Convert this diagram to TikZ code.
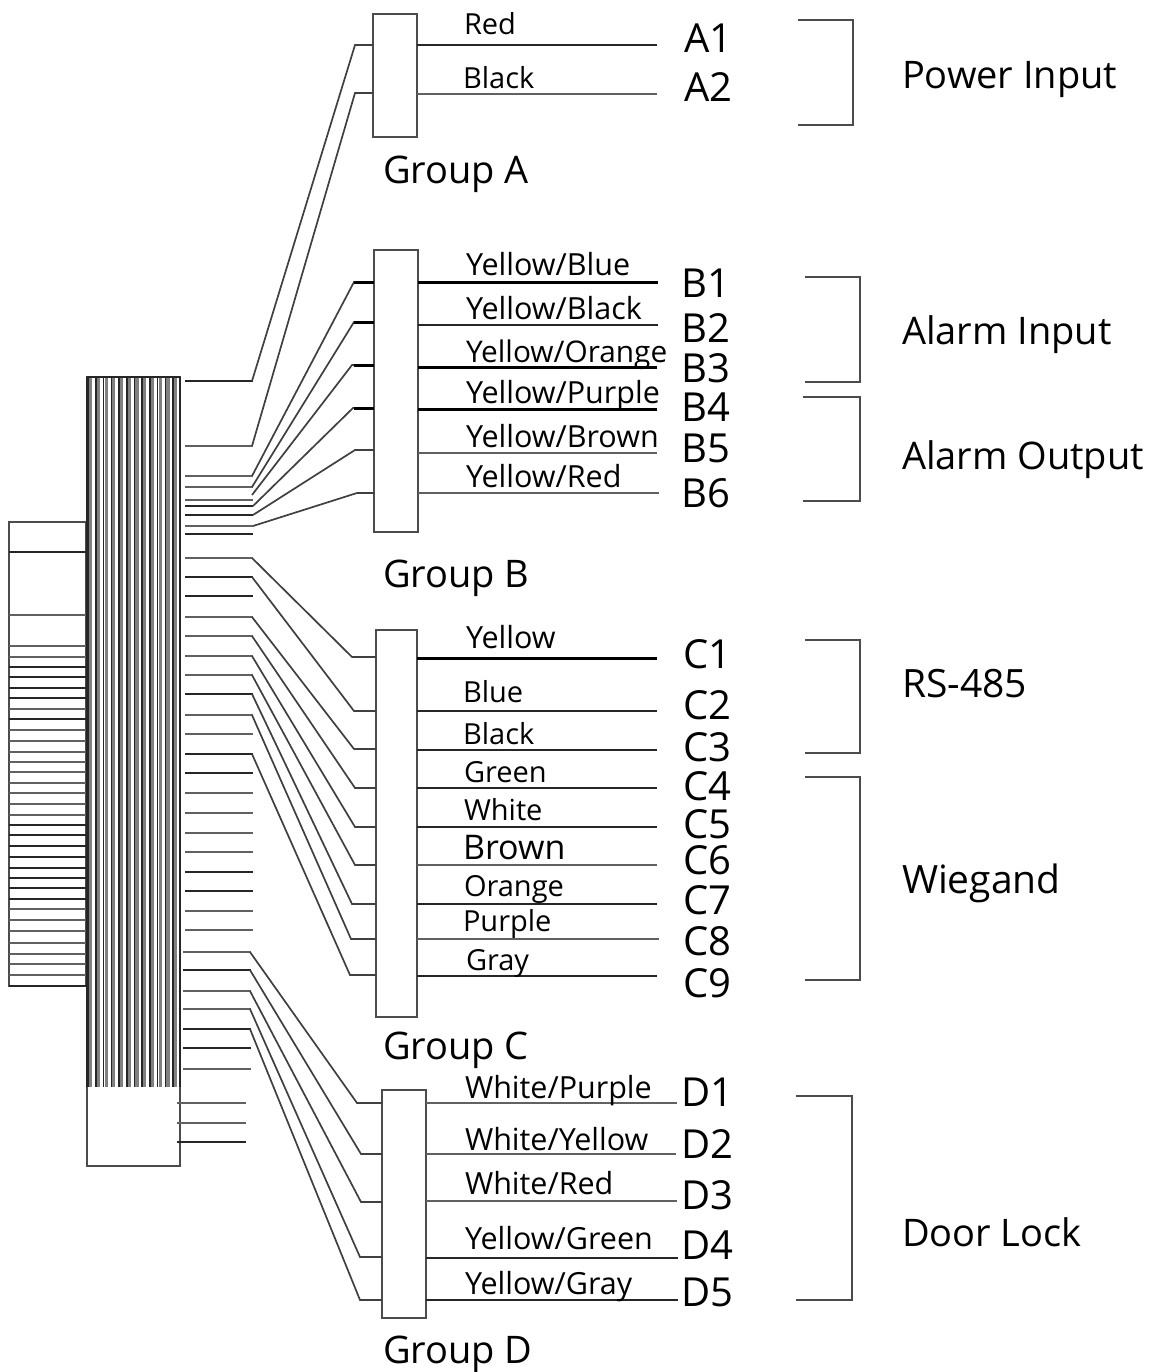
\documentclass[tikz,border=0pt]{standalone}
\usepackage{fontspec}
\setmainfont{Open Sans}
\tikzset{
  wt/.style={draw=black!85,line width=1.7pt},
  wg/.style={draw=black!62,line width=2.6pt},
  wh/.style={draw=black,line width=3pt},
  conn/.style={draw=black!75,line width=1.7pt,line join=miter},
  boxn/.style={draw=black!70,line width=1.8pt,fill=white,inner sep=0pt,outer sep=0pt,rectangle},
  wirelab/.style={anchor=base west,inner sep=0pt,outer sep=0pt,text=black,font=\fontsize{29}{34}\selectfont},
  wirelabw/.style={wirelab,font=\fontsize{30.5}{36}\selectfont},
  pinlab/.style={anchor=base west,inner sep=0pt,outer sep=0pt,text=black,font=\fontsize{40}{46}\selectfont},
  grplab/.style={anchor=base west,inner sep=0pt,outer sep=0pt,text=black,font=\fontsize{38}{44}\selectfont},
  brk/.style={draw=black!70,line width=2pt},
  hdark/.style={draw=black!85,line width=1.5pt},
  hgray/.style={draw=black!50,line width=3.2pt}
}
\begin{document}
\begin{tikzpicture}[x=1pt,y=-1pt]
\useasboundingbox (0,0) rectangle (1158,1372);
% left block
\node[boxn,minimum width=77,minimum height=464] (blockL) at (47.5,754) {};
\foreach \y/\st in {552/wt,615/wg,646/wg,657/wg,667/wt,677/wt,688/wt,698/wt,709/wg,719/wt,730/wg,741/wg,752/wg,762/wg,772/wg,783/wg,793/wg,804/wg,815/wg,825/wt,835/wt,846/wt,857/wt,868/wt,878/wt,888/wt,899/wt,909/wg,920/wg,931/wg,943/wg,954/wg,964/wg,975/wg}
  {\draw[\st] (blockL.west |- 0,\y) -- (blockL.east |- 0,\y);}
\draw[wt] (blockL.south west) -- (blockL.south east);
% bundle
\node[boxn,minimum width=93,minimum height=789] (bundle) at (133.5,771.5) {};
\foreach \i in {0,...,11}{
  \pgfmathsetmacro{\xa}{88.2+\i*7.72}
  \pgfmathsetmacro{\xb}{\xa+2.5}
  \draw[hgray] (\xb,377) -- (\xb,1087);
  \draw[hdark] (\xa,377) -- (\xa,1087);
}
\draw[draw=black!85,line width=1.8pt] (bundle.north west) -- (bundle.north east);
\draw[draw=black!85,line width=2.6pt] (87,377) -- (87,1087);
\draw[draw=black!85,line width=2pt] (180,377) -- (180,1087);
% bundle stubs
\foreach \y/\st in {381/wt,446/wg,476/wg,487/wg,500/wg,506/wt,515/wt,526/wg,534/wt,558/wg,577/wt,596/wt,617/wg,636/wg,656/wg,675/wg,694/wt,715/wg,734/wg,754/wt,773/wt,793/wg,813/wg,833/wg,852/wg,872/wt,891/wt,911/wg,930/wg}
  {\draw[\st] (185,\y) -- (253,\y);}
\foreach \y/\st in {952/wg,970/wt,991/wg,1009/wg,1029/wt,1048/wt,1069/wg}
  {\draw[\st] (183,\y) -- (251,\y);}
\foreach \y/\st in {1103/wg,1123/wg,1142/wt}
  {\draw[\st] (177,\y) -- (246,\y);}
% group boxes
\node[boxn,minimum width=44,minimum height=123] (boxA) at (395,75.5) {};
\node[boxn,minimum width=44,minimum height=282] (boxB) at (396,391) {};
\node[boxn,minimum width=41,minimum height=387] (boxC) at (396.5,823.5) {};
\node[boxn,minimum width=44,minimum height=228] (boxD) at (404,1204) {};
% connectors bundle -> box
\foreach \n/\sx/\sy/\bx/\by/\bn in {
  a1/252/381/355/45/boxA, a2/252/446/355/93/boxA,
  b1/252/476/354/282/boxB, b2/252/487/354/322/boxB, b3/252/495/352/365/boxB,
  b4/253/506/353/408/boxB, b5/253/515/355/450/boxB, b6/253/526/357/493/boxB,
  c1/252/558/352/657/boxC, c2/252/577/354/711/boxC, c3/252/617/354/749/boxC,
  c4/252/636/355/788/boxC, c5/252/656/355/827/boxC, c6/252/675/355/865/boxC,
  c7/252/694/352/904/boxC, c8/252/715/351/939/boxC, c9/252/754/350/975/boxC,
  d1/250/952/357/1103/boxD, d2/250/970/361/1154/boxD, d3/250/991/361/1202/boxD,
  d4/250/1009/360/1257/boxD, d5/250/1029/360/1300/boxD}{
  \coordinate (s\n) at (\sx,\sy);
  \coordinate (k\n) at (\bx,\by);
  \draw[conn] (s\n) -- (k\n) -- (k\n -| \bn.west);
}
\foreach \y in {282,322,365,408}{\draw[wh] (354,\y) -- (boxB.west |- 0,\y);}
% box -> pin wires
\foreach \n/\y/\ex/\bn/\st in {
  a1/45/657/boxA/wt, a2/94/657/boxA/wg,
  b1/282/658/boxB/wh, b2/325/658/boxB/wt, b3/367/657/boxB/wh, b4/409/657/boxB/wh, b5/453/657/boxB/wg, b6/493/659/boxB/wg,
  c1/658/657/boxC/wh, c2/711/657/boxC/wt, c3/750/657/boxC/wt, c4/788/657/boxC/wt, c5/827/657/boxC/wt, c6/865/657/boxC/wg, c7/904/657/boxC/wt, c8/939/659/boxC/wg, c9/976/657/boxC/wt,
  d1/1103/677/boxD/wg, d2/1154/676/boxD/wg, d3/1201/677/boxD/wg, d4/1258/678/boxD/wt, d5/1300/678/boxD/wt}{
  \coordinate (e\n) at (\ex,\y);
  \draw[\st] (\bn.east |- e\n) -- (e\n);
}
% wire labels
\foreach \n/\x/\y/\t in {
  Red/464/35/Red, BlackA/463/89/Black,
  Blu/463/702/Blue, BlkC/463/744/Black, Gre/464/782/Green, Whi/464/820/White, Ora/464/896/Orange, Pur/463/931/Purple, Gra/466/970/Gray}{
  \node[wirelab] (l\n) at (\x,\y) {\t};
}
\foreach \n/\x/\y/\t in {
  YBl/466/276/Yellow\slash Blue, YBk/466/319/Yellow\slash Black, YPu/466/403/Yellow\slash Purple, YBr/466/447/Yellow\slash Brown, YRe/466/487/Yellow\slash Red,
  Yel/466/648/Yellow,
  WPu/465/1098/White\slash Purple, WYe/465/1150/White\slash Yellow, WRe/465/1194/White\slash Red, YGr/465/1249/Yellow\slash Green, YGy/465/1294/Yellow\slash Gray}{
  \node[wirelabw] (l\n) at (\x,\y) {\t};
}
\node[wirelab,font=\fontsize{29.8}{35}\selectfont] (lYOr) at (466,362) {Yellow\slash Orange};
\node[wirelab,font=\fontsize{34}{40}\selectfont] (lBro) at (463,859) {Brown};
% pin labels
\foreach \n/\x/\y in {A1/684.5/53,A2/684.5/102,
  B1/681.5/297,B2/681.5/342,B3/681.5/382,B4/681.5/421,B5/681.5/462,B6/681.5/507,
  C1/683/668,C2/683/719,C3/683/761,C4/683/800,C5/683/838,C6/683/874,C7/683/914,C8/683/955,C9/683/997,
  D1/681.5/1106,D2/681.5/1158,D3/681.5/1209,D4/681.5/1259,D5/681.5/1306}{
  \node[pinlab] (p\n) at (\x,\y) {\n};
}
% group labels
\node[grplab] (gA) at (383,184) {Group A};
\node[grplab] (gB) at (383,587) {Group B};
\node[grplab] (gC) at (383,1059) {Group C};
\node[grplab] (gD) at (383,1363) {Group D};
% brackets
\foreach \n/\xa/\xb/\ya/\yb in {pw/798/853/20/125, ai/805/860/277/382, ao/803/860/397/501, rs/805/860/640/753, wi/805/860/777/980, dl/796/852/1096/1300}{
  \coordinate (t\n) at (\xa,\ya);
  \coordinate (u\n) at (\xa,\yb);
  \draw[brk] (t\n) -- (\xb,\ya) -- (\xb,\yb) -- (u\n);
}
% function labels
\node[grplab] (fP) at (902,89) {Power Input};
\node[grplab] (fA) at (902,344) {Alarm Input};
\node[grplab] (fO) at (902,469) {Alarm Output};
\node[grplab,font=\fontsize{39}{45}\selectfont] (fR) at (902,697) {RS-485};
\node[grplab,font=\fontsize{39}{45}\selectfont] (fW) at (902,893) {Wiegand};
\node[grplab] (fD) at (902,1246) {Door Lock};
\end{tikzpicture}
\end{document}
